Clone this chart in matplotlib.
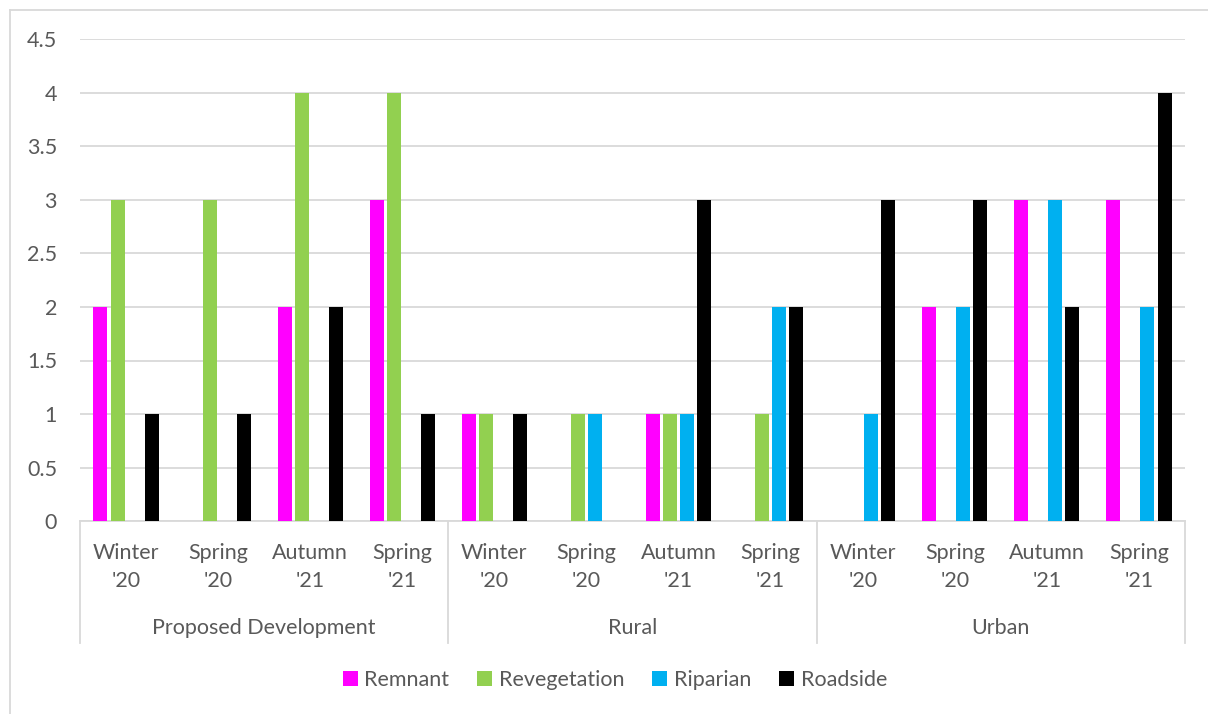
import matplotlib
matplotlib.use("Agg")
import matplotlib.pyplot as plt
import matplotlib.transforms as mtransforms
from matplotlib.patches import Patch
from matplotlib.lines import Line2D
import numpy as np

plt.rcParams['font.family'] = ['Lato', 'DejaVu Sans']

groups = ["Proposed Development", "Rural", "Urban"]
seasons = ["Winter\n'20", "Spring\n'20", "Autumn\n'21", "Spring\n'21"]
series = ["Remnant", "Revegetation", "Riparian", "Roadside"]
colors = ["#FF00FF", "#92D050", "#00B0F0", "#000000"]

remnant      = [2, 0, 2, 3,  1, 0, 1, 0,  0, 2, 3, 3]
revegetation = [3, 3, 4, 4,  1, 1, 1, 1,  0, 0, 0, 0]
riparian     = [0, 0, 0, 0,  0, 1, 1, 2,  1, 2, 3, 2]
roadside     = [1, 1, 2, 1,  1, 0, 3, 2,  3, 3, 2, 4]
values = [remnant, revegetation, riparian, roadside]

W, H = 1208, 714
fig = plt.figure(figsize=(W / 100, H / 100), dpi=100)
ax_l, ax_r, ax_t, ax_b = 80, 1185, 39.5, 521
ax = fig.add_axes([ax_l / W, 1 - ax_b / H, (ax_r - ax_l) / W, (ax_b - ax_t) / H])

grid_c = "#D9D9D9"
text_c = "#595959"
fs = 15.5

n = len(remnant)
x = np.arange(n)
slot = 0.185
bw = 0.152
for i, (vals, c) in enumerate(zip(values, colors)):
    ax.bar(x + (i - 1.5) * slot, vals, width=bw, color=c, zorder=3)

ax.set_xlim(-0.5, n - 0.5)
ax.set_ylim(0, 4.5)
ax.set_yticks(np.arange(0, 4.51, 0.5))
ax.set_yticklabels(["0", "0.5", "1", "1.5", "2", "2.5", "3", "3.5", "4", "4.5"])
ax.yaxis.grid(True, color=grid_c, linewidth=1.3, zorder=0)
ax.tick_params(axis='y', length=0, pad=16.5, labelsize=fs, labelcolor=text_c)
ax.set_xticks([])
for s in ["left", "right", "top"]:
    ax.spines[s].set_visible(False)
ax.spines["bottom"].set_color(grid_c)
ax.spines["bottom"].set_linewidth(1.3)

trans = mtransforms.blended_transform_factory(ax.transData, ax.transAxes)
ah = ax_b - ax_t

def yfrac(py):
    return -(py - ax_b) / ah

# separators
for b in [-0.5, 3.5, 7.5, 11.5]:
    ax.plot([b, b], [0, yfrac(643)], transform=trans, color=grid_c,
            linewidth=1.3, clip_on=False)

# season labels
for i in range(n):
    top, bot = seasons[i % 4].split("\n")
    ax.text(x[i], yfrac(553), top, transform=trans, ha="center", va="center",
            fontsize=fs, color=text_c)
    ax.text(x[i], yfrac(581), bot, transform=trans, ha="center", va="center",
            fontsize=fs, color=text_c)

for g, name in enumerate(groups):
    ax.text(g * 4 + 1.5, yfrac(628), name, transform=trans, ha="center",
            va="center", fontsize=fs, color=text_c)

# legend
handles = [Patch(facecolor=c, edgecolor="none", label=s) for s, c in zip(series, colors)]
leg = fig.legend(handles=handles, loc="center", bbox_to_anchor=(615 / W, 1 - 680 / H),
                 ncol=4, frameon=False, fontsize=fs, handlelength=0.7,
                 handleheight=0.7, handletextpad=0.3, columnspacing=1.3)
for t in leg.get_texts():
    t.set_color(text_c)

# outer border
fig.add_artist(Line2D([10 / W, 10 / W], [0, 1 - 10 / H], color=grid_c, linewidth=1.3))
fig.add_artist(Line2D([10 / W, 1], [1 - 10 / H, 1 - 10 / H], color=grid_c, linewidth=1.3))

fig.savefig("out.png", dpi=100, facecolor="white")
